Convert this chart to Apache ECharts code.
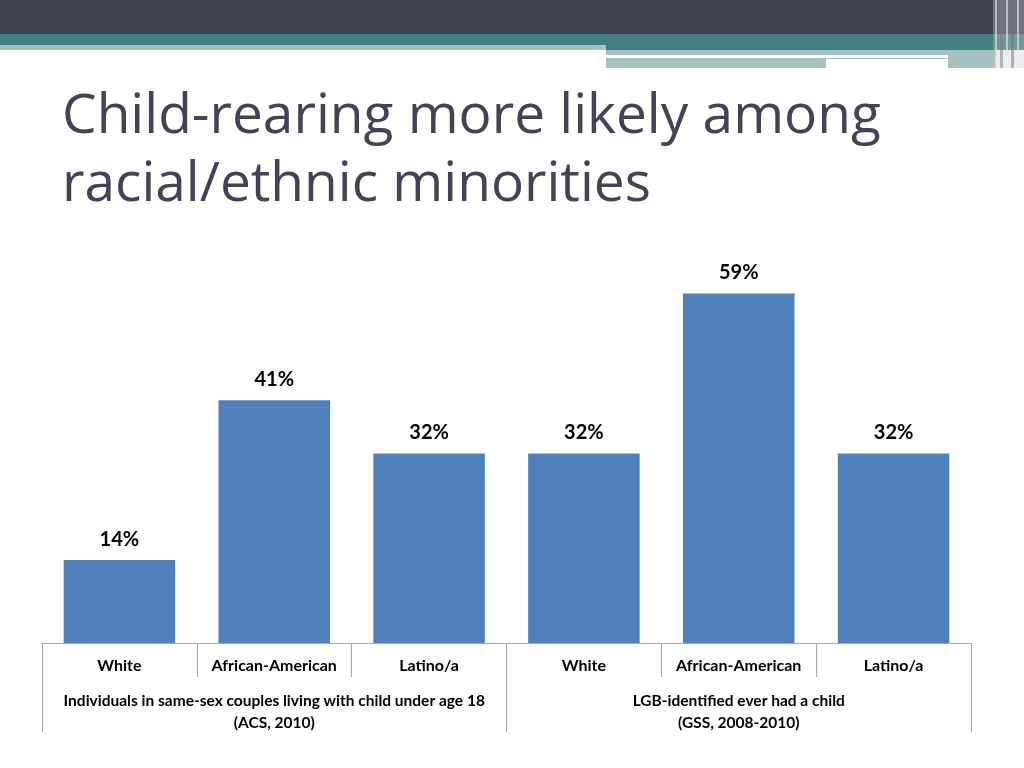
<!DOCTYPE html>
<html>
<head>
<meta charset="utf-8">
<script src="https://cdn.jsdelivr.net/npm/echarts@6/dist/echarts.min.js"></script>
<style>
  html, body { margin: 0; padding: 0; background: #fff; }
  #chart { width: 1024px; height: 768px; }
</style>
</head>
<body>
<div id="chart"></div>
<script>
// 数据
var categories = ['White', 'African-American', 'Latino/a', 'White', 'African-American', 'Latino/a'];
var values = [14, 41, 32, 32, 59, 32];
var groups = [
    'Individuals in same-sex couples living with child under age 18\n(ACS, 2010)',
    'LGB-identified ever had a child\n(GSS, 2008-2010)'
];
var titleText = 'Child-rearing more likely among\nracial/ethnic minorities';

var axisGray = '#a6a6a6';
var labelFont = 'Lato';

var myChart = echarts.init(document.getElementById('chart'));

var option = {
    animation: false,
    backgroundColor: '#fff',
    title: {
        text: titleText,
        left: 57,
        top: 78,
        textStyle: {
            fontFamily: 'Open Sans',
            fontSize: 55,
            fontWeight: 'normal',
            color: '#414356',
            lineHeight: 68
        }
    },
    // 页眉装饰条
    graphic: [
        { type: 'rect', shape: { x: 0, y: 0, width: 1024, height: 34 }, style: { fill: '#404254' } },
        { type: 'rect', shape: { x: 0, y: 34, width: 1024, height: 11 }, style: { fill: '#417f83' } },
        { type: 'rect', shape: { x: 0, y: 45, width: 606, height: 5 }, style: { fill: '#a9c3c5' } },
        { type: 'rect', shape: { x: 606, y: 45, width: 418, height: 5 }, style: { fill: '#417f83' } },
        { type: 'rect', shape: { x: 606, y: 50, width: 390, height: 18 }, style: { fill: '#a6c0c2' } },
        { type: 'rect', shape: { x: 606, y: 55, width: 342, height: 3 }, style: { fill: '#ffffff' } },
        { type: 'rect', shape: { x: 826, y: 59, width: 122, height: 10 }, style: { fill: '#ffffff' } },
        { type: 'rect', shape: { x: 993, y: 0, width: 31, height: 68 }, style: { fill: 'rgba(200,200,210,0.35)' } },
        { type: 'rect', shape: { x: 995, y: 0, width: 2, height: 68 }, style: { fill: 'rgba(230,230,235,0.6)' } },
        { type: 'rect', shape: { x: 1000, y: 0, width: 3, height: 68 }, style: { fill: 'rgba(120,120,135,0.5)' } },
        { type: 'rect', shape: { x: 1006, y: 0, width: 2, height: 68 }, style: { fill: 'rgba(235,235,240,0.6)' } },
        { type: 'rect', shape: { x: 1011, y: 0, width: 3, height: 68 }, style: { fill: 'rgba(110,110,125,0.5)' } },
        { type: 'rect', shape: { x: 1017, y: 0, width: 2, height: 68 }, style: { fill: 'rgba(235,235,240,0.6)' } }
    ],
    grid: {
        left: 42,
        right: 53,
        top: 258,
        bottom: 125,
        containLabel: false
    },
    xAxis: [{
        type: 'category',
        data: categories,
        axisLine: { show: true, lineStyle: { color: axisGray, width: 1 } },
        axisTick: { show: true, length: 34, lineStyle: { color: axisGray } },
        axisLabel: {
            margin: 15,
            color: '#000',
            fontFamily: labelFont,
            fontWeight: 'bold',
            fontSize: 16,
            interval: 0
        }
    }, {
        type: 'category',
        data: groups,
        position: 'bottom',
        axisLine: { show: false },
        axisTick: { show: true, length: 89, lineStyle: { color: axisGray } },
        axisLabel: {
            margin: 47,
            color: '#000',
            fontFamily: labelFont,
            fontWeight: 'bold',
            fontSize: 15.5,
            lineHeight: 22,
            interval: 0
        }
    }],
    yAxis: {
        type: 'value',
        min: 0,
        max: 65,
        show: false,
        splitLine: { show: false }
    },
    series: [{
        type: 'bar',
        xAxisIndex: 0,
        data: values,
        barWidth: '72%',
        itemStyle: { color: '#4f81bd' },
        label: {
            show: true,
            position: 'top',
            distance: 11,
            formatter: '{c}%',
            color: '#000',
            fontFamily: labelFont,
            fontWeight: 'bold',
            fontSize: 20
        }
    }]
};

myChart.setOption(option);
</script>
</body>
</html>
